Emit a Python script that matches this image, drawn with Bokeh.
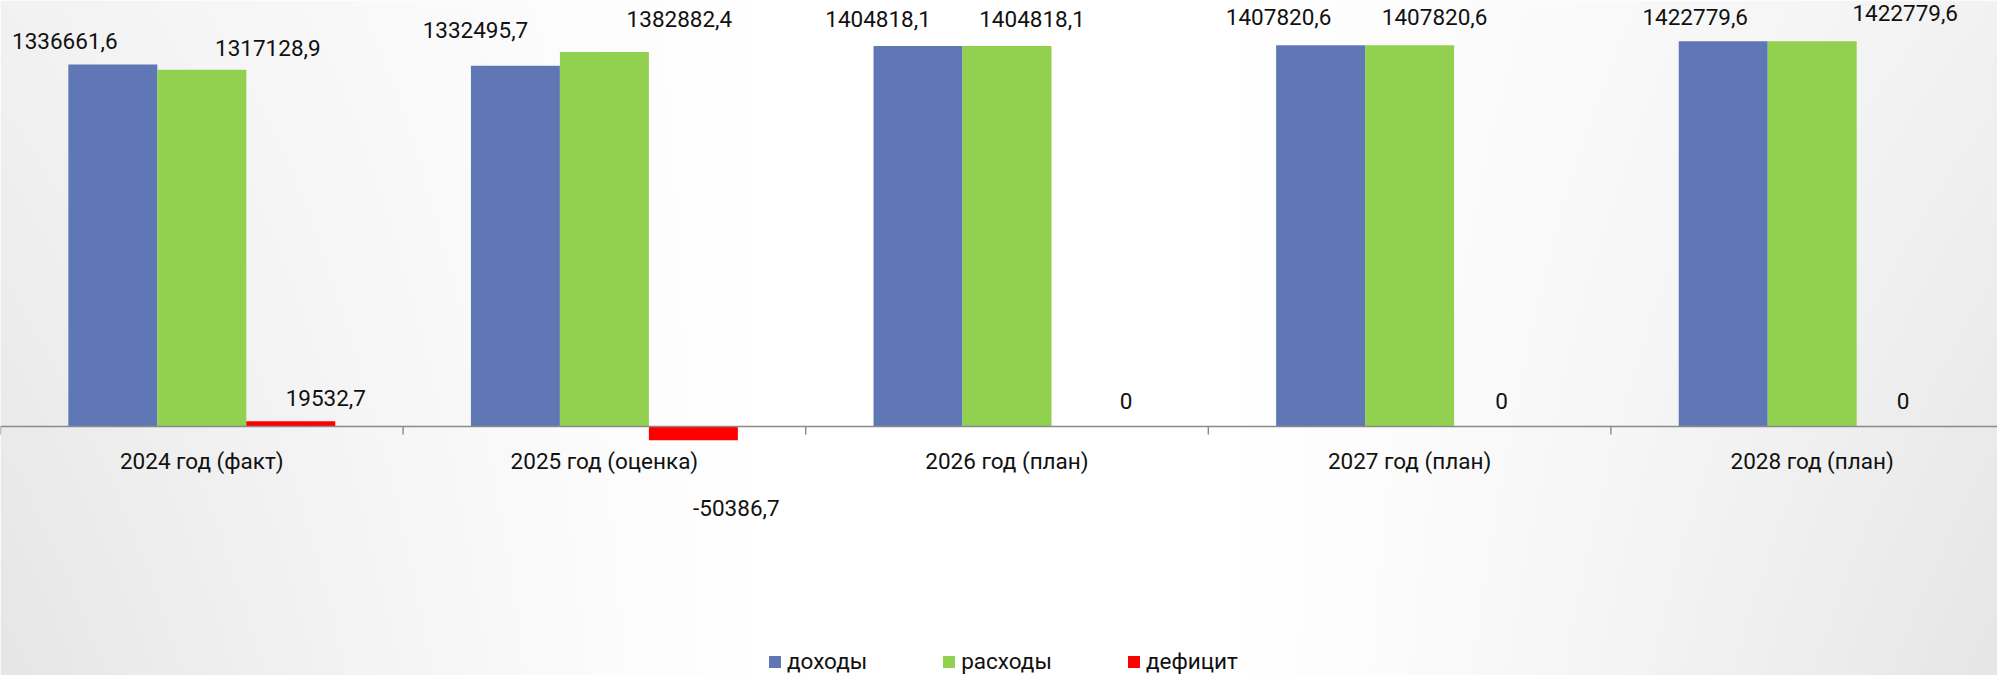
import numpy as np
from bokeh.plotting import figure
from bokeh.models import ColumnDataSource, Range1d, Span, Legend, LegendItem
from bokeh.core.properties import value
from bokeh.embed import file_html
from bokeh.resources import INLINE

# ---------------- data ----------------
categories = ["2024 год (факт)", "2025 год (оценка)", "2026 год (план)",
              "2027 год (план)", "2028 год (план)"]
dohody = [1336661.6, 1332495.7, 1404818.1, 1407820.6, 1422779.6]
rashody = [1317128.9, 1382882.4, 1404818.1, 1407820.6, 1422779.6]
deficit = [19532.7, -50386.7, 0.0, 0.0, 0.0]
series_names = ["доходы", "расходы", "дефицит"]

# ---------------- styles / layout ----------------
colors = ["#6077B5", "#92D050", "#FF0000"]
FONT = "Roboto"
W, H = 1997, 675
CAT_PX = 2013 / 5.0                # width of one category in px
BASE = 426                         # baseline row inside figure
PXU = 362.0 / 1336661.6            # screen px per unit
BAR_W = 0.221
offsets = [-BAR_W, 0.0, BAR_W]
FS = "22.5px"

# label offsets (px), per series per category
lab_dx = [[-48, -40, -40, -42, -28],
          [66, 75, 25, 25, 93],
          [35, 43, 30, 3, 2]]
lab_dy = [[-24, -36, -27, -28, -24],
          [-22, -33, -27, -28, -28],
          [-23, 68, -26, -26, -26]]

x_start = -0.5
x_end = -0.5 + W / CAT_PX
y_end = BASE / PXU
y_start = -(H - BASE) / PXU

p = figure(width=W, height=H, output_backend="svg", toolbar_location=None,
           x_range=Range1d(x_start, x_end), y_range=Range1d(y_start, y_end),
           x_axis_location=None, y_axis_location=None, min_border=0)
p.grid.visible = False
p.outline_line_color = None
p.background_fill_color = "white"
p.border_fill_color = "white"

# background gradient (white centre, light grey edges)
nx, ny = 500, 120
u = np.linspace(0, 1, nx)[None, :]
v = np.linspace(0, 1, ny)[:, None]   # 0 = bottom row of image
t = np.clip((np.abs(u - 0.5) * 2 - 0.25) / 0.75, 0, 1) ** 1.2
gray = 255 - t * (13 + 12 * (1 - v))
gray = np.clip(gray, 0, 255).astype(np.uint32)
img = (255 << 24) | (gray << 16) | (gray << 8) | gray
p.image_rgba(image=[img.astype(np.uint32)], x=x_start, y=y_start,
             dw=x_end - x_start, dh=y_end - y_start)

xs = np.arange(len(categories), dtype=float)
series = [dohody, rashody, deficit]
renderers = []
for k, vals in enumerate(series):
    src = ColumnDataSource(dict(x=xs + offsets[k], top=vals))
    r = p.vbar(x="x", width=BAR_W, top="top", bottom=0, source=src,
               fill_color=colors[k], line_color=None)
    renderers.append(r)

# baseline and ticks
p.add_layout(Span(location=0, dimension="width", line_color="#8a8a8a", line_width=1.6))
tick_x = np.arange(-0.5, len(categories) + 0.5, 1.0)
p.segment(x0=tick_x, y0=[0] * len(tick_x), x1=tick_x, y1=[-8 / PXU] * len(tick_x),
          line_color="#8a8a8a", line_width=1.4)

# category labels
p.text(x=xs, y=[0] * len(xs), text=categories, x_offset=0, y_offset=34,
       text_font=value(FONT), text_font_size=FS, text_color="#111111",
       text_align="center", text_baseline="middle")


def fmt(val):
    if val == 0:
        return "0"
    return f"{val:.1f}".replace(".", ",")


for k, vals in enumerate(series):
    src = ColumnDataSource(dict(
        x=xs + offsets[k], y=vals, t=[fmt(a) for a in vals],
        dx=lab_dx[k], dy=lab_dy[k]))
    p.text(x="x", y="y", text="t", x_offset="dx", y_offset="dy", source=src,
           text_font=value(FONT), text_font_size=FS, text_color="#111111",
           text_align="center", text_baseline="middle")

legend = Legend(items=[LegendItem(label=series_names[k], renderers=[renderers[k]])
                       for k in range(3)],
                orientation="horizontal", location=(767, 0),
                glyph_width=15, glyph_height=15, label_standoff=5, spacing=74,
                padding=0, margin=0, border_line_alpha=0, background_fill_alpha=0,
                label_text_font=FONT, label_text_font_size=FS,
                label_text_color="#111111", label_height=28)
p.add_layout(legend)

open("out.html", "w").write(file_html(p, INLINE))
